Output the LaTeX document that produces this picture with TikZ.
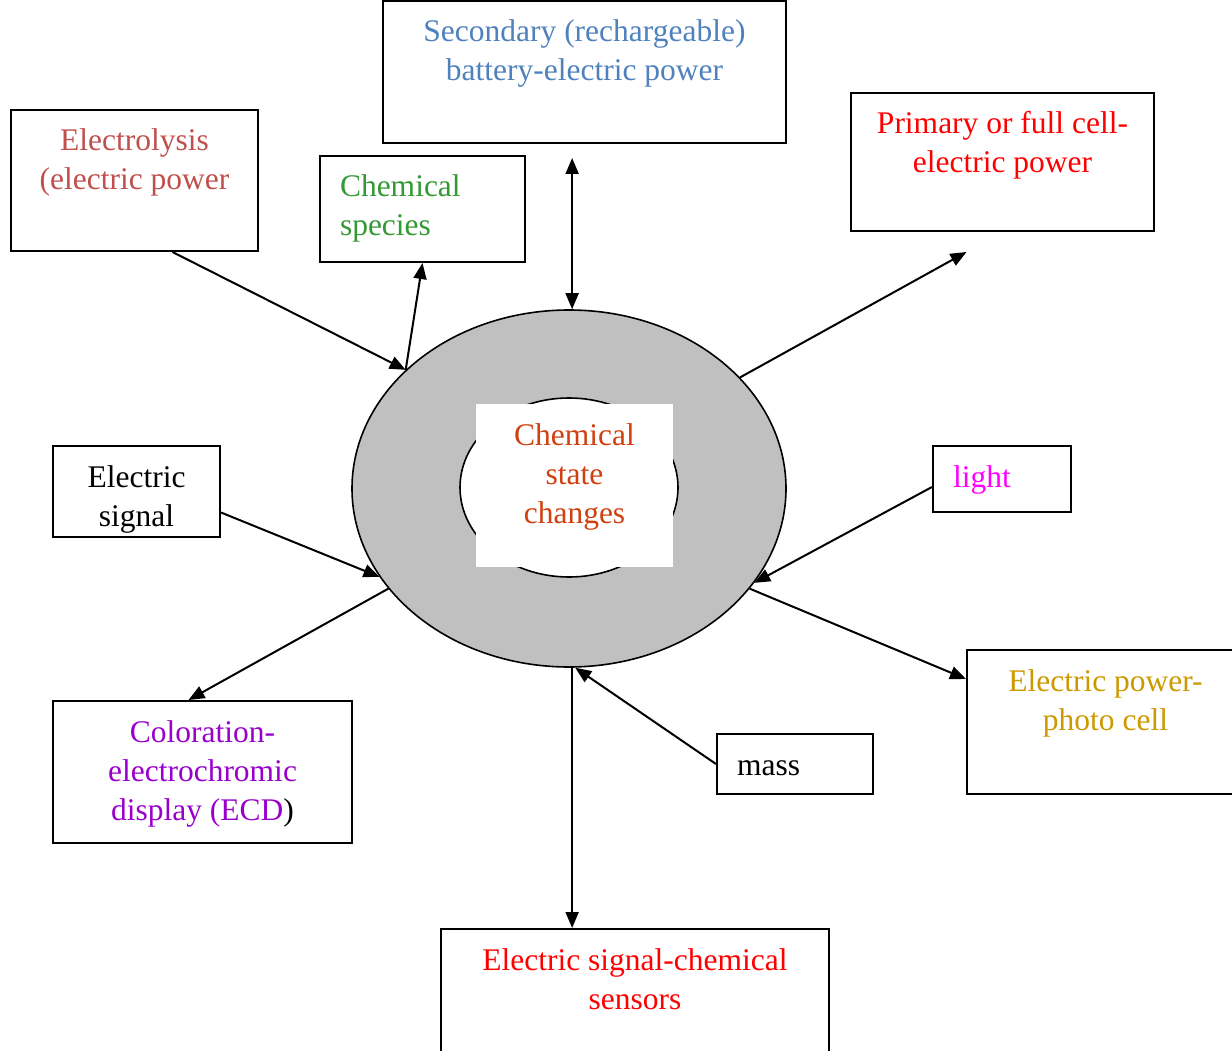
\documentclass[tikz,border=0pt]{standalone}
\usepackage{fontspec}
\setmainfont{Liberation Serif}
\usetikzlibrary{arrows.meta,shapes.geometric}
\definecolor{lysiscol}{HTML}{C0504D}
\definecolor{speciescol}{HTML}{339933}
\definecolor{batterycol}{HTML}{4F81BD}
\definecolor{cellcol}{HTML}{FF0000}
\definecolor{lightcol}{HTML}{FF00FF}
\definecolor{photocol}{HTML}{CC9900}
\definecolor{chromiccol}{HTML}{9900CC}
\definecolor{statecol}{HTML}{D04010}
\definecolor{ringcol}{HTML}{C0C0C0}
% box texts sit at the top of the box
\newcommand{\ctext}[3]{\parbox[c][#2][t]{#1}{\centering\vspace*{13.7pt}\strut#3}}
\newcommand{\ltext}[3]{\parbox[c][#2][t]{#1}{\raggedright\leftskip=20pt\vspace*{13.7pt}\strut#3}}

\begin{document}
\begin{tikzpicture}[x=1pt,y=-1pt,font=\fontsize{31.5}{39}\selectfont,
  box/.style={draw,line width=2pt,inner sep=0pt},
  arr/.style={line width=2pt,-{Triangle[length=16pt,width=13pt]}}]
\useasboundingbox (0,0) rectangle (1232,1051);
\node[ellipse,draw,fill=ringcol,line width=1.6pt,inner sep=0pt,minimum width=434pt,minimum height=357pt] (core) at (569,488.5) {};
\node[ellipse,draw,fill=white,line width=1.6pt,inner sep=0pt,minimum width=218pt,minimum height=179pt] (hole) at (569,487.5) {};
\node[fill=white,inner sep=0pt,text=statecol] (state) at (574.5,485.5) {\ctext{197pt}{163pt}{Chemical\\state\\changes}};

\node[box,text=batterycol] (sec) at (584.5,72) {\ctext{403pt}{142pt}{Secondary (rechargeable)\\battery-electric power}};
\node[box,text=lysiscol] (elec) at (134.5,180.5) {\ctext{247pt}{141pt}{Electrolysis\\(electric power}};
\node[box,text=speciescol] (species) at (422.5,209) {\ltext{205pt}{106pt}{Chemical\\species}};
\node[box,text=cellcol] (prim) at (1002.5,162) {\ctext{303pt}{138pt}{Primary or full cell-\\electric power}};
\node[box] (sig) at (136.5,491.5) {\ctext{167pt}{91pt}{Electric\\signal}};
\node[box,text=lightcol] (light) at (1002,479) {\ltext{138pt}{66pt}{light}};
\node[box,text=photocol] (photo) at (1105.5,722) {\ctext{277pt}{144pt}{Electric power-\\photo cell}};
\node[box] (mass) at (795,764) {\ltext{156pt}{60pt}{mass}};
\node[box,text=chromiccol] (col) at (202.5,772) {\ctext{299pt}{142pt}{Coloration-\\electrochromic\\display (ECD{\color{black})}}};
\node[box,text=cellcol] (sens) at (635,1000) {\ctext{388pt}{142pt}{Electric signal-chemical\\sensors}};

% connectors
\draw[arr,{Triangle[length=16pt,width=13pt]}-{Triangle[length=16pt,width=13pt]},shorten >=14pt] (core.89) -- (core.89 |- sec.south);
\draw[arr] ([xshift=38pt]elec.south) -- (core.144);
\draw[arr] (core.144) -- (species.south);
\draw[arr] (core.33) -- ([xshift=-36pt,yshift=-20pt]prim.south);
\draw[arr] ([yshift=-21pt]sig.east) -- (core.205);
\draw[arr] ([yshift=-8pt]light.west) -- (core.333);
\draw[arr] (core.331) -- ([yshift=-30pt]photo.north west);
\draw[arr] (core.209) -- ([xshift=-14pt]col.north);
\draw[arr] (mass.west) -- (core.272);
\draw[arr] (core.271) -- (core.271 |- sens.north);
\end{tikzpicture}
\end{document}
